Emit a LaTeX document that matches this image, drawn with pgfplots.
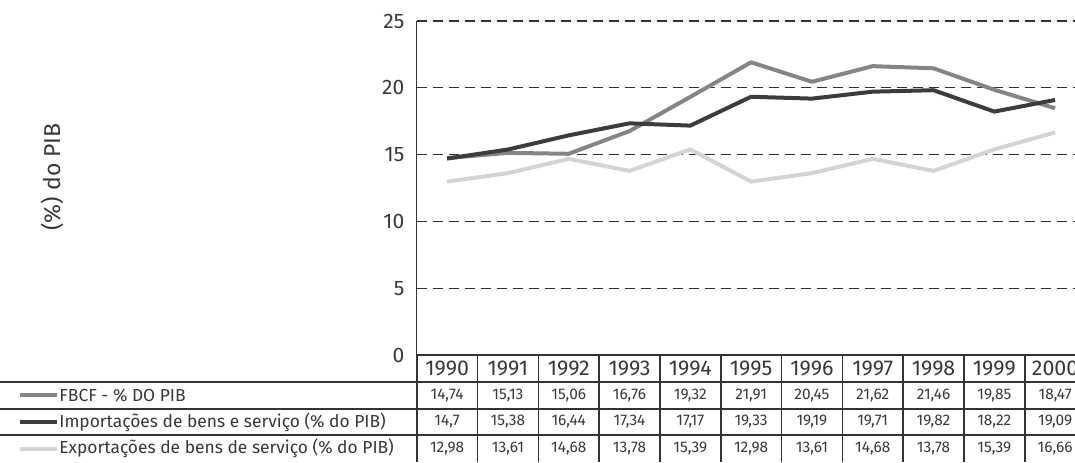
\documentclass[border=0pt]{standalone}
\usepackage{fontspec}
\setmainfont{Fira Sans}
\usepackage{pgfplots}
\pgfplotsset{compat=1.18}
\usepackage{pgfplotstable}
\definecolor{cfbcf}{HTML}{858585}
\definecolor{cimp}{HTML}{3C3C3C}
\definecolor{cexp}{HTML}{D4D4D4}
\definecolor{cgrid}{HTML}{333333}
\definecolor{ctxt}{HTML}{383838}

\pgfplotstableread{
x year fbcf imp exs
0 1990 14.74 14.70 12.98
1 1991 15.13 15.38 13.61
2 1992 15.06 16.44 14.68
3 1993 16.76 17.34 13.78
4 1994 19.32 17.17 15.39
5 1995 21.91 19.33 12.98
6 1996 20.45 19.19 13.61
7 1997 21.62 19.71 14.68
8 1998 21.46 19.82 13.78
9 1999 19.85 18.22 15.39
10 2000 18.47 19.09 16.66
}\data

\begin{document}
\begin{tikzpicture}
\path[use as bounding box] (0,0) rectangle (537.5pt,231pt);
\begin{axis}[
  at={(208.35pt,53.5pt)}, anchor=south west,
  scale only axis, width=334.4pt, height=167pt,
  xmin=-0.5, xmax=10.5, ymin=0, ymax=25,
  axis x line*=bottom, axis y line*=left,
  axis line style={color=cgrid, line width=0.75pt},
  xtick=\empty, ytick={0,5,10,15,20,25},
  major tick length=0pt,
  ymajorgrids, grid style={cgrid, line width=0.6pt, dash pattern=on 5pt off 3pt},
  /pgf/number format/assume math mode=true,
  yticklabel style={font=\fontsize{10.5}{11}\selectfont, text=ctxt, inner sep=0pt, xshift=-6pt},
  every axis plot/.append style={line width=2pt, line join=round, mark=none},
]
\addplot[cexp] table[x=x,y=exs]{\data};
\addplot[cfbcf] table[x=x,y=fbcf]{\data};
\addplot[cimp] table[x=x,y=imp]{\data};
\end{axis}
\node[rotate=90, font=\fontsize{11.5}{12}\selectfont, text=ctxt, inner sep=0pt] at (26pt,142.5pt) {(\%) do PIB};
\begin{scope}[shift={(0pt,231pt)}, x=0.5pt, y=-0.5pt]
  \tikzset{tabline/.style={cgrid, line width=0.8pt},
    val/.style={font=\fontsize{7.7}{8}\selectfont, text=ctxt, inner sep=0pt},
    leg/.style={anchor=west, font=\fontsize{8.7}{9}\selectfont, text=ctxt, inner sep=0pt}}
  \draw[tabline] (416.7,355) -- (416.7,462);
  \foreach \k in {1,...,10} \draw[tabline] ({416.7+60.8*\k},355) -- ({416.7+60.8*\k},462);
  \foreach \yy in {381.7,409,435} \draw[tabline] (0,\yy) -- (1075,\yy);
  \foreach \r in {0,...,10} {
    \pgfmathsetmacro\cx{416.7+60.8*(\r+0.5)}
    \pgfplotstablegetelem{\r}{year}\of\data
    \node[font=\fontsize{10.7}{11}\selectfont, text=ctxt, inner sep=0pt] at (\cx,368.3) {\pgfplotsretval};
    \pgfplotstablegetelem{\r}{fbcf}\of\data
    \node[val] at (\cx,395.3) {\pgfmathprintnumber[fixed,precision=2,use comma,assume math mode=true]{\pgfplotsretval}};
    \pgfplotstablegetelem{\r}{imp}\of\data
    \node[val] at (\cx,422) {\pgfmathprintnumber[fixed,precision=2,use comma,assume math mode=true]{\pgfplotsretval}};
    \pgfplotstablegetelem{\r}{exs}\of\data
    \node[val] at (\cx,448.5) {\pgfmathprintnumber[fixed,precision=2,use comma,assume math mode=true]{\pgfplotsretval}};
  }
  \draw[cfbcf, line width=2pt] (20,395.3) -- (57,395.3);
  \draw[cimp, line width=2pt] (20,422) -- (57,422);
  \draw[cexp, line width=2pt] (20,448.5) -- (57,448.5);
  \node[leg] at (59,395.3) {FBCF - \% DO PIB};
  \node[leg] at (59,422) {Importações de bens e serviço (\% do PIB)};
  \node[leg] at (59,448.5) {Exportações de bens de serviço (\% do PIB)};
\end{scope}
\end{tikzpicture}
\end{document}
